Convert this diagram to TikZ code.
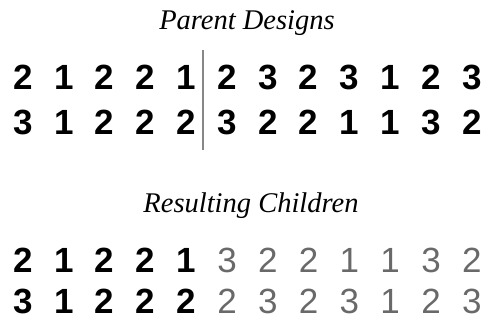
\documentclass[tikz,border=0pt]{standalone}
\usepackage{fontspec}
\setmainfont{Liberation Serif}
\setsansfont{Liberation Sans}
\usetikzlibrary{positioning}
\definecolor{halftone}{RGB}{105,105,105}
\definecolor{cutgray}{RGB}{135,135,135}

\begin{document}
\begin{tikzpicture}[x=1pt,y=-1pt,
  digit/.style={font=\fontsize{35}{35}\sffamily\bfseries,anchor=base,inner sep=0pt},
  childdigit/.style={digit,font=\fontsize{35}{35}\sffamily,halftone},
  heading/.style={font=\fontsize{28.5}{30}\itshape,anchor=base,inner sep=0pt}]
\useasboundingbox (0,0) rectangle (484,320);
% parent designs
\node[heading] (parents) at (247,30) {Parent Designs};
\foreach \d [count=\i] in {2,1,2,2,1,2,3,2,3,1,2,3}
  \node[digit] (pa\i) at (23+40.8*\i-40.8,90) {\d};
\foreach \d [count=\i] in {3,1,2,2,2,3,2,2,1,1,3,2}
  \node[digit] (pb\i) at (23+40.8*\i-40.8,135) {\d};
% crossover point
\coordinate (cuttop) at (203,50);
\coordinate (cutbot) at (203,150);
\draw[cutgray,line width=2pt] (cuttop) -- (cutbot);
% resulting children
\node[heading] (children) at (251,213) {Resulting Children};
\foreach \d [count=\i] in {2,1,2,2,1}
  \node[digit] (ca\i) at (23+40.8*\i-40.8,272) {\d};
\foreach \d [count=\i from 6] in {3,2,2,1,1,3,2}
  \node[childdigit] (ca\i) at (23+40.8*\i-40.8,272) {\d};
\foreach \d [count=\i] in {3,1,2,2,2}
  \node[digit] (cb\i) at (23+40.8*\i-40.8,313) {\d};
\foreach \d [count=\i from 6] in {2,3,2,3,1,2,3}
  \node[childdigit] (cb\i) at (23+40.8*\i-40.8,313) {\d};
\end{tikzpicture}
\end{document}
